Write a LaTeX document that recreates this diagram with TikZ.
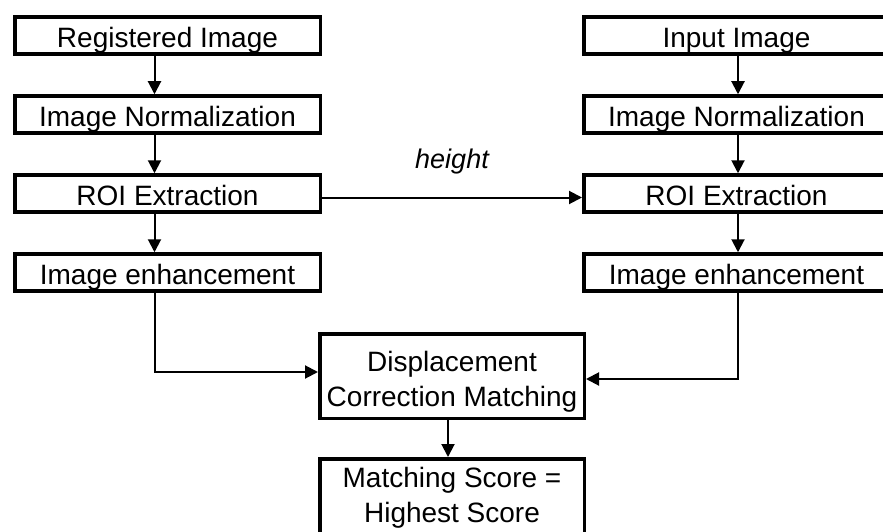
\documentclass[tikz,border=0pt]{standalone}
\usepackage{fontspec}
\setmainfont{Liberation Sans}
\usetikzlibrary{arrows.meta, positioning}

\begin{document}
\begin{tikzpicture}[
    x=1pt, y=-1pt,
    node distance=38.5pt and 260pt,
    stage/.style={rectangle, draw=black, line width=3.5pt, minimum width=305.5pt, minimum height=37pt, inner sep=0pt, text height=25.6pt, text depth=1.4pt, align=center, font=\fontsize{28}{35}\selectfont},
    merge/.style={stage, minimum width=264.5pt, minimum height=84.5pt, text height=62pt},
    arrow/.style={line width=2pt, -{Triangle[length=13pt, width=13pt]}}
]
\useasboundingbox (0,0) rectangle (883,532);
\clip (0,0) rectangle (883,532);

% Nodes
\node[stage] (regimg) at (167.5,35.5) {Registered Image};
\node[stage, below=of regimg] (normL) {Image Normalization};
\node[stage, below=of normL] (roiL) {ROI Extraction};
\node[stage, below=of roiL] (enhL) {Image enhancement};

\node[stage, right=of regimg] (inimg) {Input Image};
\node[stage, below=of inimg] (normR) {Image Normalization};
\node[stage, below=of normR] (roiR) {ROI Extraction};
\node[stage, below=of roiR] (enhR) {Image enhancement};

\node[merge] (match) at (452,376) {Displacement\\Correction Matching};
\node[merge, below=37pt of match, text height=43pt, text depth=1pt] (score) {Matching Score =\\Highest Score};

% Arrows
\foreach \a/\b in {regimg/normL, normL/roiL, roiL/enhL}
    \draw[arrow] ([xshift=-13pt]\a.south) -- ([xshift=-13pt]\b.north);
\foreach \a/\b in {inimg/normR, normR/roiR, roiR/enhR}
    \draw[arrow] ([xshift=1.5pt]\a.south) -- ([xshift=1.5pt]\b.north);

\draw[arrow] ([yshift=-4pt]roiL.east) -- node[yshift=36pt, font=\itshape\fontsize{27}{30}\selectfont] {height} ([yshift=-4pt]roiR.west);

\draw[arrow] ([xshift=-13pt]enhL.south) |- ([yshift=4pt]match.west);
\draw[arrow] ([xshift=1.5pt]enhR.south) |- ([yshift=-3pt]match.east);
\draw[arrow] ([xshift=-4pt]match.south) -- ([xshift=-4pt]score.north);

\end{tikzpicture}
\end{document}
